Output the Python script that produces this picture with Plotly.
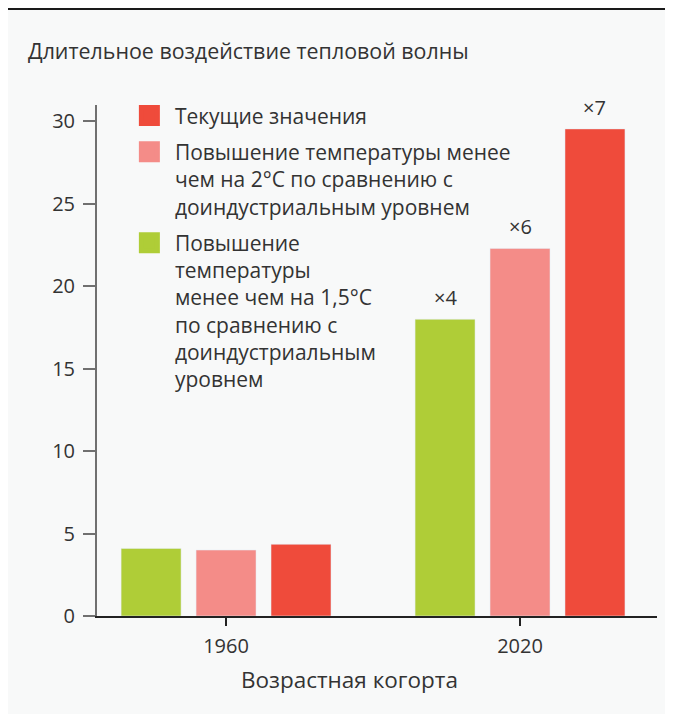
import plotly.graph_objects as go

# ---- data ----
cohorts = ["1960", "2020"]
series_names = [
    "Повышение<br>температуры<br>менее чем на 1,5°C<br>по сравнению с<br>доиндустриальным<br>уровнем",
    "Повышение температуры менее<br>чем на 2°C по сравнению с<br>доиндустриальным уровнем",
    "Текущие значения",
]
values_15 = [4.1, 18.0]
values_2 = [4.0, 22.3]
values_cur = [4.35, 29.55]
multipliers = ["×4", "×6", "×7"]  # labels for 2020 bars
colors = ["#afcd37", "#f48c88", "#ef4b3b"]

title_text = "Длительное воздействие тепловой волны"
x_title = "Возрастная когорта"
y_ticks = [0, 5, 10, 15, 20, 25, 30]

FONT = "Open Sans"
TXT = "#333333"
BG = "#f8f9f9"

bargap = 0.235
bargroupgap = 0.2

fig = go.Figure()
all_vals = [values_15, values_2, values_cur]
for i, (name, vals, col) in enumerate(zip(series_names, all_vals, colors)):
    fig.add_trace(go.Bar(x=cohorts, y=vals, marker_color=col, name=name,
                         showlegend=False, hoverinfo="skip"))
# legend proxies (larger square swatches), listed current -> 2°C -> 1.5°C
for i in [2, 1, 0]:
    fig.add_trace(go.Scatter(x=[None], y=[None], mode="markers", name=series_names[i],
                             marker=dict(symbol="square", size=16, color=colors[i],
                                         line=dict(color=colors[i], width=5)),
                             legendgroup=f"g{i}", showlegend=True))

slot = (1 - bargap) / 3
annotations = []
for i, (lab, vals) in enumerate(zip(multipliers, all_vals)):
    annotations.append(dict(x=1 + (i - 1) * slot, y=vals[1], xref="x", yref="y",
                            text=lab, showarrow=False, yanchor="bottom", yshift=6,
                            font=dict(family=FONT, size=20, color=TXT)))
# x-axis title (offset left of plot centre as in the source)
annotations.append(dict(x=0.45, y=-0.1233, xref="paper", yref="paper", text=x_title,
                        showarrow=False, xanchor="center", yanchor="middle",
                        font=dict(family=FONT, size=22.5, color=TXT)))

W, H = 665, 706
fig.update_layout(
    width=W, height=H,
    paper_bgcolor=BG, plot_bgcolor=BG,
    margin=dict(l=89, r=16, t=97, b=98),
    barmode="group", bargap=bargap, bargroupgap=bargroupgap,
    font=dict(family=FONT, size=20, color=TXT),
    title=dict(text=title_text, x=20 / W, xanchor="left", xref="container",
               y=1 - 44 / H, yanchor="middle", yref="container",
               font=dict(family=FONT, size=21.4, color=TXT)),
    legend=dict(x=0.048, y=1.019, xanchor="left", yanchor="top",
                traceorder="grouped", tracegroupgap=6, valign="top",
                itemwidth=41,
                bgcolor="rgba(0,0,0,0)", font=dict(family=FONT, size=21, color=TXT),
                itemsizing="trace"),
    annotations=annotations,
    shapes=[dict(type="line", xref="paper", yref="paper", x0=-0.16, x1=1.03,
                 y0=1.188, y1=1.188, line=dict(color="#1a1a1a", width=2))],
)
fig.update_xaxes(type="category", range=[-0.439, 1.466], showline=True,
                 linecolor="#222222", linewidth=1.5, ticks="outside", ticklen=8,
                 tickcolor="#222222", tickwidth=1.5, showgrid=False,
                 tickfont=dict(size=20, color=TXT), ticklabelstandoff=3)
fig.update_yaxes(range=[0, 31], tickvals=y_ticks, showline=True, linecolor="#707070",
                 linewidth=2, ticks="outside", ticklen=12, tickcolor="#707070",
                 tickwidth=1.5, showgrid=False, zeroline=False,
                 tickfont=dict(size=20, color=TXT), ticklabelstandoff=4)

fig.write_html("out.html")
